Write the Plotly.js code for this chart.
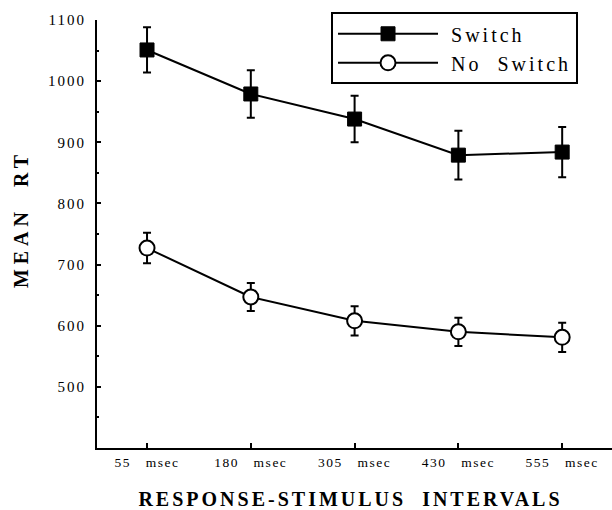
<!DOCTYPE html>
<html>
<head>
<meta charset="utf-8">
<script src="https://cdn.plot.ly/plotly-3.0.1.min.js"></script>
<style>
  html, body { margin: 0; padding: 0; background: #fff; }
  #chart { width: 612px; height: 510px; }
  .legendtext { letter-spacing: 3px; }
  .xtitle { letter-spacing: 3px; }
  .ytitle { letter-spacing: 5px; }
  .ytick text { letter-spacing: 2px; }
  .xtick text { letter-spacing: 1.5px; }
</style>
</head>
<body>
<div id="chart"></div>
<script>
// Data
const intervals = [0, 1, 2, 3, 4];
const intervalLabels = ["55\u00A0\u00A0 msec", "180\u00A0\u00A0 msec", "305\u00A0\u00A0 msec", "430\u00A0\u00A0 msec", "555\u00A0\u00A0 msec"];
const switchMean = [1051, 979, 938, 879, 884];
const switchErr = [37, 39, 38, 40, 41];
const noSwitchMean = [727, 647, 608, 590, 581];
const noSwitchErr = [25, 23, 24, 23, 24];
const yTicks = [500, 600, 700, 800, 900, 1000, 1100];
const seriesNames = ["\u00A0Switch", "\u00A0No  Switch"];

const serif = "'Liberation Serif', 'Times New Roman', Times, serif";

const traces = [
  {
    name: seriesNames[0],
    x: intervals, y: switchMean,
    type: "scatter", mode: "lines+markers",
    line: { color: "#000", width: 2 },
    marker: { symbol: "square", size: 14, color: "#000", line: { color: "#000", width: 1 } },
    error_y: { type: "data", array: switchErr, visible: true, color: "#000", thickness: 2, width: 4 }
  },
  {
    name: seriesNames[1],
    x: intervals, y: noSwitchMean,
    type: "scatter", mode: "lines+markers",
    line: { color: "#000", width: 2 },
    marker: { symbol: "circle", size: 15, color: "#fff", line: { color: "#000", width: 2 } },
    error_y: { type: "data", array: noSwitchErr, visible: true, color: "#000", thickness: 2, width: 4 }
  }
];

const layout = {
  width: 612, height: 510,
  margin: { l: 97, r: 0, t: 20, b: 62, pad: 0 },
  paper_bgcolor: "#fff", plot_bgcolor: "#fff",
  font: { family: serif, color: "#000", size: 15 },
  showlegend: true,
  legend: {
    x: 0.4544, y: 1.018, xanchor: "left", yanchor: "top",
    bordercolor: "#000", borderwidth: 2, bgcolor: "#fff",
    font: { family: serif, size: 20, color: "#000" },
    itemwidth: 100, tracegroupgap: 0
  },
  xaxis: {
    range: [-0.482, 4.48],
    tickmode: "array", tickvals: intervals, ticktext: intervalLabels,
    ticks: "inside", ticklen: 5, tickwidth: 2, tickcolor: "#000",
    showline: true, linecolor: "#000", linewidth: 2,
    showgrid: false, zeroline: false,
    tickfont: { family: serif, size: 13.5, color: "#000" },
    ticklabelstandoff: 1,
    title: { text: "<b>RESPONSE-STIMULUS  INTERVALS\u00A0</b>", font: { family: serif, size: 20, color: "#000" }, standoff: 30 },
    fixedrange: true
  },
  yaxis: {
    range: [400, 1100],
    tickmode: "array", tickvals: yTicks,
    ticks: "inside", ticklen: 4, tickwidth: 2, tickcolor: "#000",
    minor: { dtick: 50, ticks: "inside", ticklen: 2, tickwidth: 2, tickcolor: "#000", showgrid: false },
    showline: true, linecolor: "#000", linewidth: 2,
    showgrid: false, zeroline: false,
    tickfont: { family: serif, size: 15, color: "#000" },
    ticklabelstandoff: 6,
    title: { text: "<b>\u00A0\u00A0\u00A0MEAN  RT</b>", font: { family: serif, size: 20, color: "#000" }, standoff: 14 },
    fixedrange: true
  }
};

Plotly.newPlot("chart", traces, layout, { displayModeBar: false, staticPlot: true });
</script>
</body>
</html>
